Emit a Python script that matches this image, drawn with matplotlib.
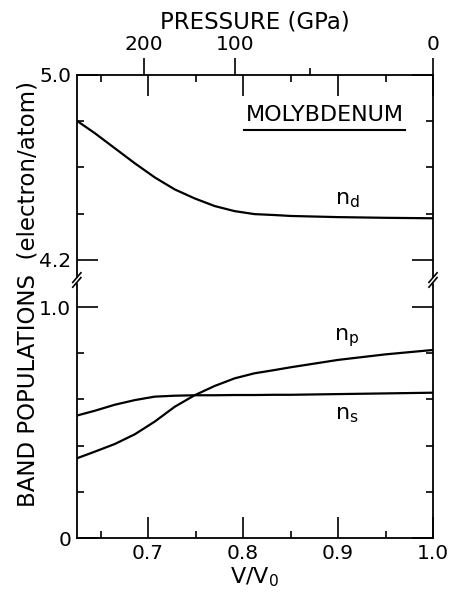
import matplotlib
matplotlib.use("Agg")
import matplotlib.pyplot as plt
from matplotlib.lines import Line2D
from matplotlib.patches import Rectangle

plt.rcParams['font.family'] = ['DejaVu Sans']
plt.rcParams['mathtext.fontset'] = 'dejavusans'

# V/V0 sample points
vv0 = [0.625, 0.644, 0.665, 0.686, 0.707, 0.728, 0.749, 0.770, 0.791,
       0.812, 0.833, 0.85, 0.90, 0.95, 1.0]
n_d = [4.802, 4.748, 4.683, 4.618, 4.557, 4.505, 4.466, 4.433, 4.411,
       4.398, 4.394, 4.390, 4.385, 4.382, 4.380]
n_s = [0.530, 0.551, 0.577, 0.597, 0.612, 0.616, 0.618, 0.618, 0.619,
       0.619, 0.620, 0.620, 0.623, 0.626, 0.629]
n_p = [0.345, 0.374, 0.407, 0.449, 0.504, 0.568, 0.618, 0.658, 0.691,
       0.713, 0.727, 0.739, 0.771, 0.795, 0.814]

# pressure scale on top (GPa) and where it sits in V/V0
pressure_major = [200, 100, 0]
pressure_major_pos = [0.6955, 0.792, 1.0]
pressure_minor_pos = [0.870]

x_ticks = [0.7, 0.8, 0.9, 1.0]
x_minor = [0.65, 0.75, 0.85, 0.95]

fig = plt.figure(figsize=(4.52, 5.99), dpi=100)
ax_top = fig.add_axes([0.170, 0.5326, 0.788, 0.3422])
ax_bot = fig.add_axes([0.170, 0.1018, 0.788, 0.4308], sharex=ax_top)

lw = 1.6
ax_top.plot(vv0, n_d, color='black', lw=lw)
ax_bot.plot(vv0, n_s, color='black', lw=lw)
ax_bot.plot(vv0, n_p, color='black', lw=lw)

ax_top.set_xlim(0.625, 1.0)
ax_top.set_ylim(4.113, 5.0)
ax_bot.set_ylim(0, 1.117)

# pressure axis on top
ax_p = ax_top.twiny()
ax_p.set_xlim(ax_top.get_xlim())
ax_p.set_xticks(pressure_major_pos)
ax_p.set_xticklabels([str(p) for p in pressure_major])
ax_p.set_xticks(pressure_minor_pos, minor=True)
ax_p.tick_params(which='major', direction='out', length=12, width=1.2,
                 labelsize=14.5, pad=3)
ax_p.tick_params(which='minor', direction='out', length=5, width=1.2)
for s in ax_p.spines.values():
    s.set_visible(False)
ax_p.set_xlabel('PRESSURE (GPa)', fontsize=16.5, labelpad=5)

for ax in (ax_top, ax_bot):
    for s in ax.spines.values():
        s.set_linewidth(1.3)
ax_top.spines['bottom'].set_visible(False)
ax_bot.spines['top'].set_visible(False)

# y ticks
ax_top.set_yticks([4.2, 5.0])
ax_top.set_yticklabels(['4.2', '5.0'])
ax_top.set_yticks([4.4, 4.6, 4.8], minor=True)
ax_bot.set_yticks([0, 1.0])
ax_bot.set_yticklabels(['0', '1.0'])
ax_bot.set_yticks([0.2, 0.4, 0.6, 0.8], minor=True)

# x ticks
ax_bot.set_xticks(x_ticks)
ax_bot.set_xticklabels(['0.7', '0.8', '0.9', '1.0'])
ax_bot.set_xticks(x_minor, minor=True)

for ax in (ax_top, ax_bot):
    ax.tick_params(which='major', direction='in', length=15, width=1.2,
                   left=True, right=True, labelsize=14.5, pad=4)
    ax.tick_params(which='minor', direction='in', length=5, width=1.2,
                   left=True, right=True)
ax_top.tick_params(axis='x', which='both', top=True, bottom=False,
                   labelbottom=False, labeltop=False)
ax_bot.tick_params(axis='x', which='both', top=False, bottom=True,
                   labelbottom=True)

ax_bot.set_xlabel(r'V/V$_\mathregular{0}$', fontsize=16, labelpad=2)
fig.text(0.062, 0.51, 'BAND POPULATIONS  (electron/atom)', rotation=90,
         ha='center', va='center', fontsize=16.5)

# annotations
ax_top.text(0.886, 4.827, 'MOLYBDENUM', ha='center', va='center', fontsize=16)
ax_top.plot([0.801, 0.971], [4.762, 4.762], color='black', lw=1.5)
ax_top.text(0.910, 4.459, r'n$_\mathregular{d}$', ha='center', va='center', fontsize=16)
ax_bot.text(0.909, 0.866, r'n$_\mathregular{p}$', ha='center', va='center', fontsize=16)
ax_bot.text(0.909, 0.532, r'n$_\mathregular{s}$', ha='center', va='center', fontsize=16)

# break marks on both side spines
yb = 0.5326
for xs in (0.170, 0.958):
    fig.add_artist(Rectangle((xs - 0.01, yb - 0.004), 0.02, 0.008,
                             transform=fig.transFigure, color='white', zorder=5))
    for dy in (-0.004, 0.004):
        fig.add_artist(Line2D([xs - 0.009, xs + 0.009],
                              [yb + dy - 0.008, yb + dy + 0.008],
                              transform=fig.transFigure, color='black',
                              lw=1.2, zorder=6))

fig.savefig('out.png', dpi=100)
